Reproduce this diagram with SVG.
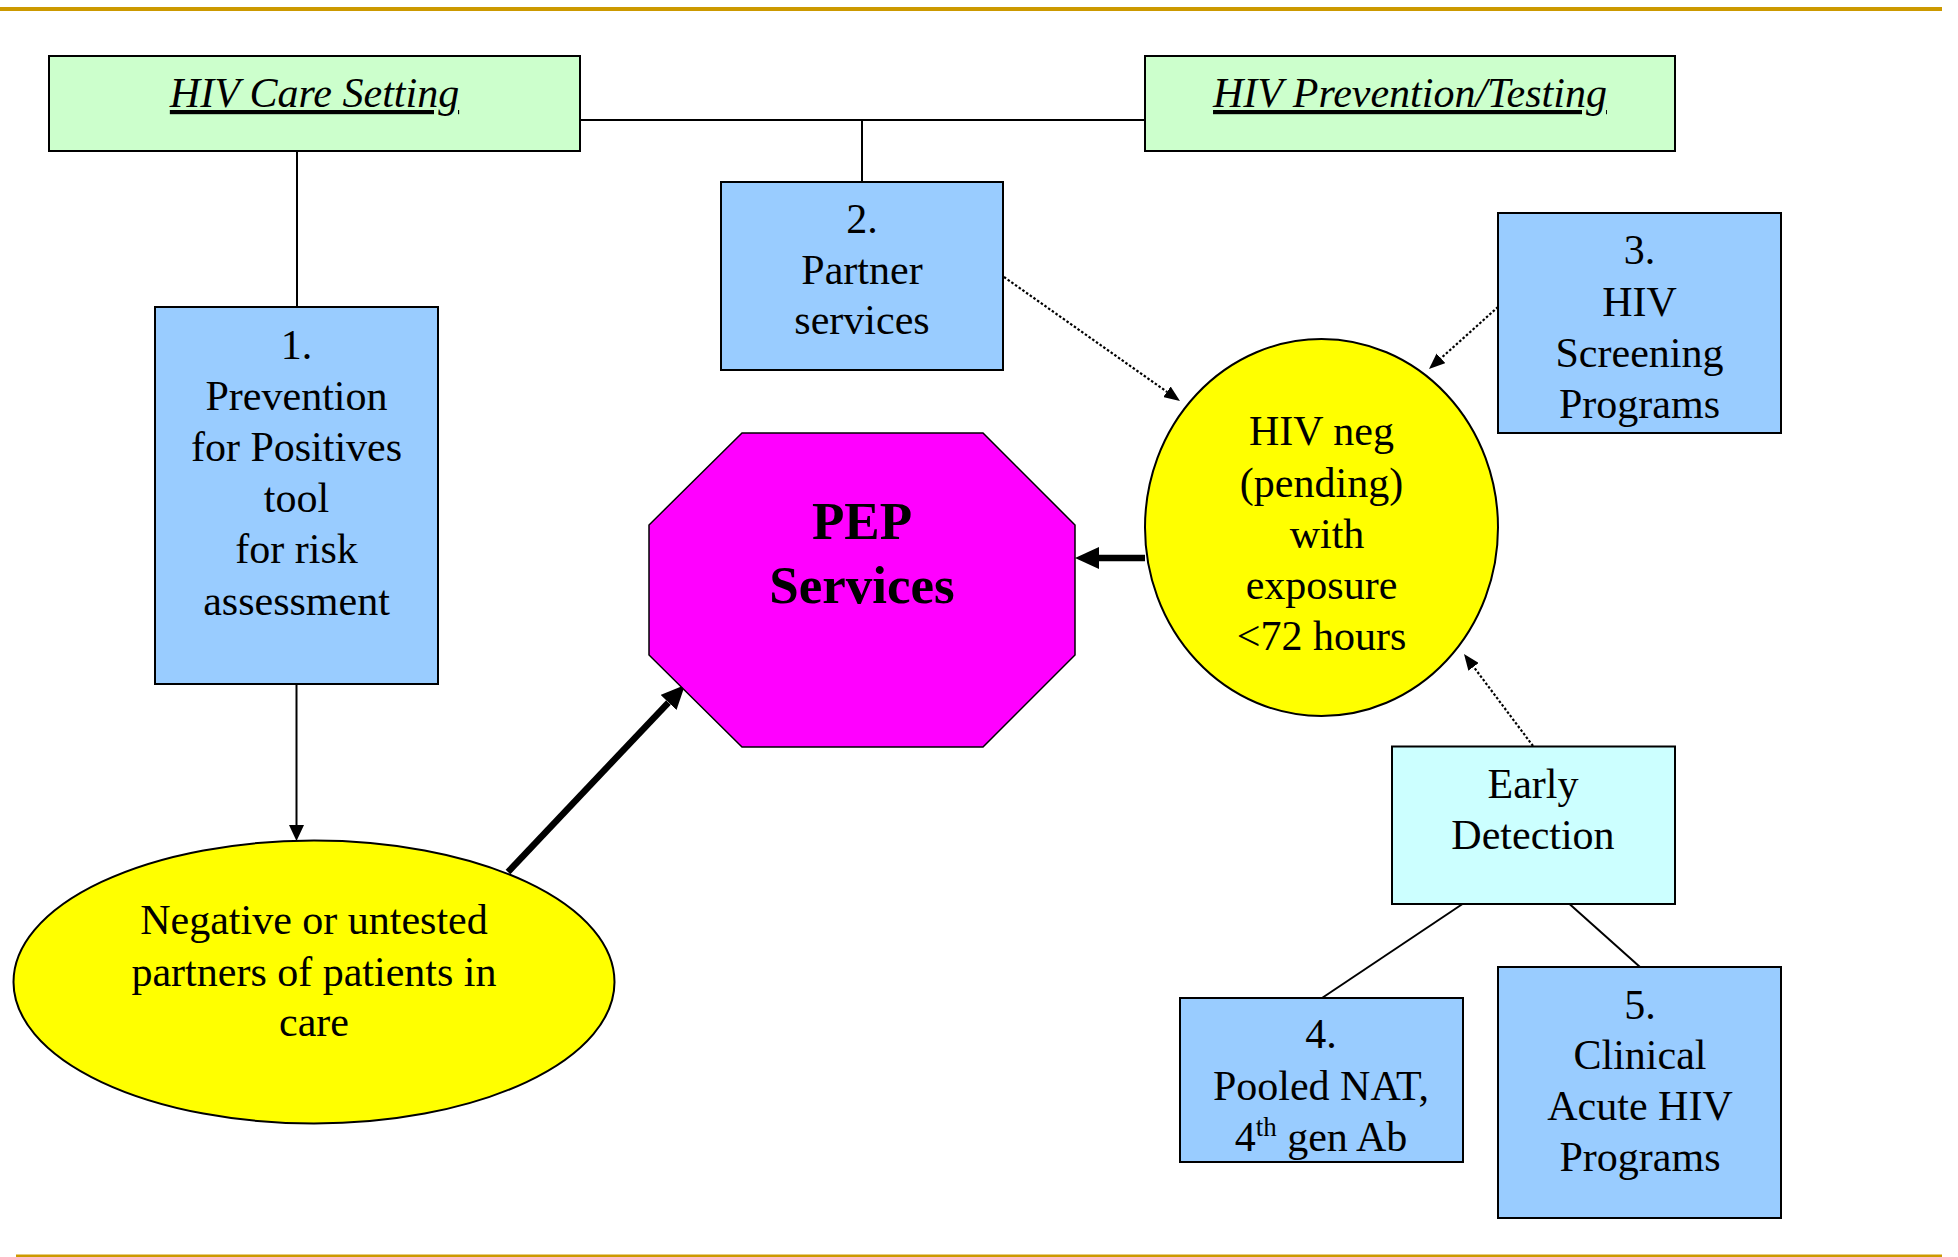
<svg xmlns="http://www.w3.org/2000/svg" width="1958" height="1257" viewBox="0 0 1958 1257">
<defs>
<style>
text{font-family:"Liberation Serif","Times New Roman",serif;font-size:42px;fill:#000;text-anchor:middle}
.hdr{font-style:italic;text-decoration:underline}
.pep{font-weight:bold;font-size:53px}
.box{stroke:#000;stroke-width:2}
.green{fill:#CCFFCC}
.blue{fill:#99CCFF}
.cyan{fill:#CCFFFF}
.yellow{fill:#FFFF00;stroke:#000;stroke-width:2}
.line{stroke:#000;stroke-width:2;fill:none}
.dot{stroke:#000;stroke-width:2.2;fill:none;stroke-dasharray:2.5 2}
.thick{stroke:#000;stroke-width:6.5;fill:none}
.rule{stroke:#CC9900;fill:none}
</style>
<marker id="ahs" markerUnits="userSpaceOnUse" markerWidth="16" markerHeight="15" refX="0" refY="7.5" orient="auto"><path d="M0,0 L16,7.5 L0,15 z" fill="#000"/></marker>
<marker id="ahd" markerUnits="userSpaceOnUse" markerWidth="16" markerHeight="13" refX="0" refY="6.5" orient="auto"><path d="M0,0 L16,6.5 L0,13 z" fill="#000"/></marker>
<marker id="aht" markerUnits="userSpaceOnUse" markerWidth="24" markerHeight="22" refX="0" refY="11" orient="auto"><path d="M0,0 L24,11 L0,22 z" fill="#000"/></marker>
</defs>
<rect width="1958" height="1257" fill="#fff"/>
<line class="rule" x1="0" y1="9" x2="1942" y2="9" stroke-width="4"/>
<line class="rule" x1="16" y1="1256" x2="1942" y2="1256" stroke-width="3"/>

<g id="connectors">
<line class="line" x1="580" y1="120" x2="1145" y2="120"/>
<line class="line" x1="862" y1="120" x2="862" y2="182"/>
<line class="line" x1="297" y1="151" x2="297" y2="307"/>
<line class="line" x1="296.5" y1="684" x2="296.5" y2="825" marker-end="url(#ahs)"/>
<line class="thick" x1="508" y1="872" x2="668.5" y2="702.4" marker-end="url(#aht)"/>
<line class="thick" x1="1145" y1="558" x2="1099" y2="558" marker-end="url(#aht)"/>
<line class="dot" x1="1004" y1="277" x2="1166.9" y2="391.8" marker-end="url(#ahd)"/>
<line class="dot" x1="1498" y1="307" x2="1440.9" y2="358.3" marker-end="url(#ahd)"/>
<line class="dot" x1="1533" y1="746" x2="1473.6" y2="666.8" marker-end="url(#ahd)"/>
<line class="line" x1="1462.5" y1="904" x2="1322" y2="998"/>
<line class="line" x1="1569.5" y1="904" x2="1640" y2="967"/>
</g>

<g id="care-setting">
<rect class="box green" x="49" y="56" width="531" height="95"/>
<text class="hdr" x="314.5" y="107">HIV Care Setting</text>
</g>

<g id="prevention-testing">
<rect class="box green" x="1145" y="56" width="530" height="95"/>
<text class="hdr" x="1410" y="107">HIV Prevention/Testing</text>
</g>

<g id="node1">
<rect class="box blue" x="155" y="307" width="283" height="377"/>
<text x="296.5" y="359">1.</text>
<text x="296.5" y="410">Prevention</text>
<text x="296.5" y="461">for Positives</text>
<text x="296.5" y="512">tool</text>
<text x="296.5" y="563">for risk</text>
<text x="296.5" y="615">assessment</text>
</g>

<g id="node2">
<rect class="box blue" x="721" y="182" width="282" height="188"/>
<text x="862" y="233">2.</text>
<text x="862" y="284">Partner</text>
<text x="862" y="334">services</text>
</g>

<g id="node3">
<rect class="box blue" x="1498" y="213" width="283" height="220"/>
<text x="1639.5" y="264">3.</text>
<text x="1639.5" y="316">HIV</text>
<text x="1639.5" y="367">Screening</text>
<text x="1639.5" y="418">Programs</text>
</g>

<g id="partners">
<ellipse class="yellow" cx="314" cy="982" rx="300.5" ry="141.5"/>
<text x="314" y="934">Negative or untested</text>
<text x="314" y="986">partners of patients in</text>
<text x="314" y="1036">care</text>
</g>

<g id="pep">
<polygon points="742,433 983,433 1075,525 1075,655 983,747 742,747 649,655 649,525" fill="#FF00FF" stroke="#000" stroke-width="1.5"/>
<text class="pep" x="862" y="539">PEP</text>
<text class="pep" x="862" y="603">Services</text>
</g>

<g id="hivneg">
<ellipse class="yellow" cx="1321.5" cy="527.5" rx="176.5" ry="188.5"/>
<text x="1321.5" y="445">HIV neg</text>
<text x="1321.5" y="497">(pending)</text>
<text x="1327" y="548">with</text>
<text x="1321.5" y="599">exposure</text>
<text x="1321.5" y="650">&lt;72 hours</text>
</g>

<g id="early-detection">
<rect class="box cyan" x="1392" y="746.5" width="283" height="157.5"/>
<text x="1533" y="798">Early</text>
<text x="1533" y="849">Detection</text>
</g>

<g id="node4">
<rect class="box blue" x="1180" y="998" width="283" height="164"/>
<text x="1321" y="1048">4.</text>
<text x="1321" y="1100">Pooled NAT,</text>
<text x="1321" y="1151">4<tspan font-size="27" dy="-15">th</tspan><tspan dy="15"> gen Ab</tspan></text>
</g>

<g id="node5">
<rect class="box blue" x="1498" y="967" width="283" height="251"/>
<text x="1640" y="1019">5.</text>
<text x="1640" y="1069">Clinical</text>
<text x="1640" y="1120">Acute HIV</text>
<text x="1640" y="1171">Programs</text>
</g>
</svg>
